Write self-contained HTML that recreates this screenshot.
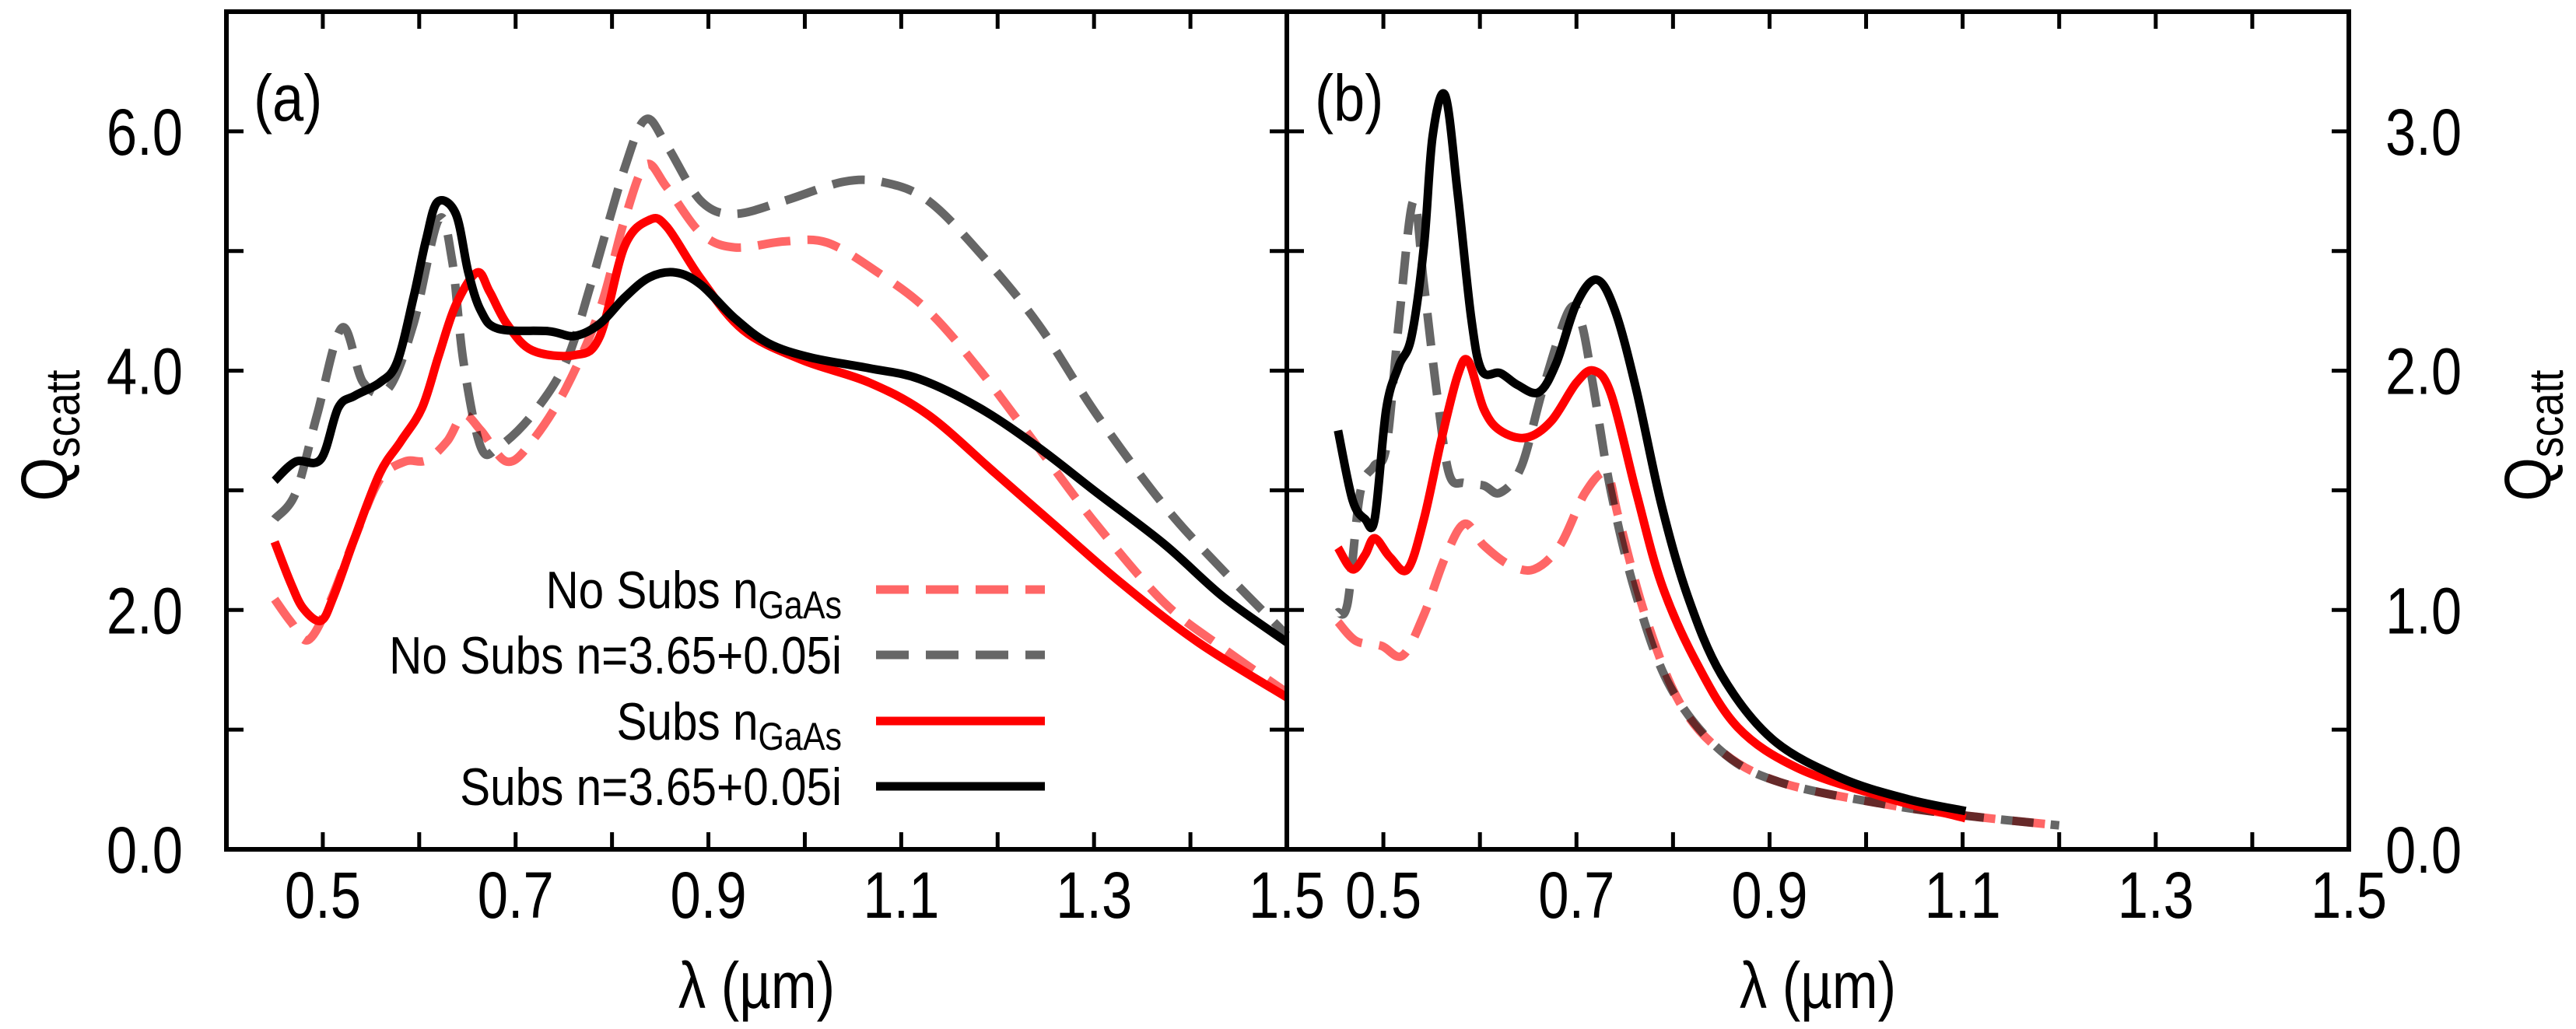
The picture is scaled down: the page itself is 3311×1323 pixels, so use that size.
<!DOCTYPE html>
<html><head><meta charset="utf-8">
<style>
html,body{margin:0;padding:0;background:#fff;}
svg{display:block;font-family:"Liberation Sans",Arial,sans-serif;}
.dash{mix-blend-mode:multiply;}
</style></head>
<body>
<svg id="chart" width="3311" height="1323" viewBox="0 0 3311 1323" xmlns="http://www.w3.org/2000/svg" style="position:absolute;left:0;top:0">
<g id="series"></g>
<g id="axes"></g>
<g id="labels"></g>
</svg>
<script>
// Panel (a) data
const aBlackX=[0.45,0.472,0.498,0.516,0.533,0.559,0.577,0.594,0.607,0.619,0.638,0.651,0.664,0.682,0.734,0.761,0.787,0.813,0.839,0.866,0.892,0.927,0.962,1.006,1.067,1.119,1.181,1.242,1.303,1.373,1.434,1.5];
const aBlackY=[3.08,3.24,3.26,3.69,3.79,3.90,4.07,4.61,5.09,5.41,5.31,4.82,4.50,4.35,4.33,4.29,4.39,4.61,4.78,4.82,4.72,4.44,4.23,4.11,4.02,3.93,3.69,3.36,2.98,2.55,2.11,1.73];
const aRedX=[0.45,0.467,0.48,0.498,0.511,0.533,0.559,0.581,0.603,0.62,0.638,0.66,0.673,0.691,0.717,0.761,0.787,0.813,0.839,0.857,0.892,0.936,0.997,1.067,1.128,1.198,1.259,1.329,1.408,1.5];
const aRedY=[2.57,2.22,2.01,1.91,2.11,2.60,3.14,3.41,3.69,4.12,4.55,4.82,4.66,4.39,4.17,4.13,4.28,5.04,5.26,5.20,4.77,4.34,4.09,3.90,3.63,3.14,2.71,2.22,1.73,1.27];
const aPinkX=[0.45,0.467,0.485,0.507,0.533,0.559,0.585,0.607,0.629,0.646,0.664,0.691,0.717,0.752,0.787,0.813,0.835,0.857,0.892,0.927,0.979,1.023,1.076,1.128,1.181,1.242,1.303,1.373,1.434,1.5];
const aPinkY=[2.09,1.90,1.75,2.06,2.60,3.09,3.24,3.25,3.41,3.63,3.50,3.24,3.41,3.85,4.50,5.26,5.72,5.53,5.15,5.03,5.08,5.07,4.82,4.50,4.01,3.36,2.71,2.06,1.68,1.31];
const aGrayX=[0.45,0.472,0.494,0.52,0.542,0.568,0.594,0.62,0.634,0.646,0.664,0.682,0.717,0.752,0.778,0.813,0.835,0.857,0.892,0.927,0.979,1.041,1.084,1.128,1.181,1.242,1.303,1.373,1.434,1.5];
const aGrayY=[2.76,2.98,3.63,4.36,3.90,3.85,4.39,5.26,4.93,4.07,3.36,3.36,3.63,4.07,4.72,5.69,6.10,5.88,5.42,5.31,5.42,5.58,5.57,5.42,4.99,4.39,3.63,2.87,2.33,1.79];
// Panel (b) data
const bBlackX=[0.453,0.468,0.481,0.491,0.503,0.516,0.529,0.542,0.551,0.564,0.577,0.591,0.602,0.621,0.639,0.661,0.679,0.700,0.721,0.740,0.762,0.788,0.815,0.850,0.903,0.973,1.043,1.103];
const bBlackY=[1.75,1.46,1.38,1.38,1.84,2.02,2.14,2.52,2.98,3.15,2.74,2.22,2.00,1.99,1.94,1.91,2.03,2.28,2.38,2.25,1.92,1.44,1.06,0.73,0.46,0.30,0.21,0.16];
const bRedX=[0.453,0.468,0.481,0.491,0.507,0.525,0.542,0.560,0.577,0.588,0.604,0.621,0.648,0.674,0.700,0.718,0.736,0.762,0.788,0.823,0.867,0.929,1.017,1.103];
const bRedY=[1.26,1.17,1.23,1.30,1.22,1.17,1.38,1.71,1.98,2.04,1.84,1.75,1.72,1.79,1.95,2.00,1.90,1.49,1.11,0.79,0.51,0.34,0.22,0.13];
const bPinkX=[0.453,0.472,0.498,0.520,0.542,0.564,0.584,0.604,0.630,0.656,0.683,0.709,0.731,0.744,0.771,0.806,0.850,0.911,1.017,1.105,1.2];
const bPinkY=[0.95,0.87,0.85,0.81,0.98,1.22,1.36,1.27,1.19,1.17,1.27,1.49,1.57,1.38,0.98,0.62,0.41,0.28,0.19,0.14,0.10];
const bGrayX=[0.453,0.463,0.476,0.490,0.503,0.516,0.531,0.542,0.555,0.568,0.584,0.604,0.621,0.643,0.665,0.692,0.705,0.718,0.736,0.762,0.797,0.850,0.911,1.017,1.105,1.2];
const bGrayY=[0.99,1.03,1.49,1.60,1.68,2.20,2.71,2.36,1.92,1.57,1.53,1.52,1.49,1.60,1.92,2.25,2.20,1.92,1.49,1.06,0.68,0.41,0.28,0.19,0.14,0.10];
const xTicks=[0.5,0.6,0.7,0.8,0.9,1.0,1.1,1.2,1.3,1.4];
const xTickLabels=["0.5","0.7","0.9","1.1","1.3","1.5"];
const aYLabels=["0.0","2.0","4.0","6.0"];
const bYLabels=["0.0","1.0","2.0","3.0"];

const NS="http://www.w3.org/2000/svg";
const TOP=15,BOT=1092,FS=84,SX=0.84;
const panels=[{x0:291,x1:1654,ymax:7},{x0:1654,x1:3019,ymax:3.5}];
function sx(p,v){return p.x0+(v-0.4)/1.1*(p.x1-p.x0);}
function sy(p,v){return BOT-v/p.ymax*(BOT-TOP);}
function mk(tag,attrs,parent){const e=document.createElementNS(NS,tag);for(const k in attrs)e.setAttribute(k,attrs[k]);parent.appendChild(e);return e;}
const gS=document.getElementById('series'),gA=document.getElementById('axes'),gL=document.getElementById('labels');

function drawLine(p,xs,ys,color,dashed,name){
  const P=xs.map((x,i)=>[sx(p,x),sy(p,ys[i])]);
  let d='M'+P[0][0].toFixed(1)+','+P[0][1].toFixed(1);
  for(let i=0;i<P.length-1;i++){
    const p0=P[Math.max(i-1,0)],p1=P[i],p2=P[i+1],p3=P[Math.min(i+2,P.length-1)];
    const t=1/6;
    const c1=[p1[0]+(p2[0]-p0[0])*t,p1[1]+(p2[1]-p0[1])*t];
    const c2=[p2[0]-(p3[0]-p1[0])*t,p2[1]-(p3[1]-p1[1])*t];
    d+='C'+c1[0].toFixed(1)+','+c1[1].toFixed(1)+' '+c2[0].toFixed(1)+','+c2[1].toFixed(1)+' '+p2[0].toFixed(1)+','+p2[1].toFixed(1);
  }
  const e=mk('path',{d:d,fill:'none',stroke:color,'stroke-width':11,'stroke-linejoin':'round'},gS);
  if(dashed){e.setAttribute('stroke-dasharray','42 22');e.setAttribute('class','dash');}
  
  
}
function label(x,y,s,anchor){
  const t=mk('text',{transform:`translate(${x},${y}) scale(${SX},1)`,x:0,y:0,'font-size':FS,'text-anchor':anchor},gL);
  t.textContent=s;return t;
}
const A=panels[0],B=panels[1];
drawLine(A,aGrayX,aGrayY,'#666666',true,'series-a-nosubs-n365');
drawLine(A,aPinkX,aPinkY,'#ff6666',true,'series-a-nosubs-ngaas');
drawLine(A,aRedX,aRedY,'#ff0000',false,'series-a-subs-ngaas');
drawLine(A,aBlackX,aBlackY,'#000000',false,'series-a-subs-n365');
drawLine(B,bGrayX,bGrayY,'#666666',true,'series-b-nosubs-n365');
drawLine(B,bPinkX,bPinkY,'#ff6666',true,'series-b-nosubs-ngaas');
drawLine(B,bRedX,bRedY,'#ff0000',false,'series-b-subs-ngaas');
drawLine(B,bBlackX,bBlackY,'#000000',false,'series-b-subs-n365');

panels.forEach((p,pi)=>{
  const r=mk('rect',{x:p.x0,y:TOP,width:p.x1-p.x0,height:BOT-TOP,fill:'none',stroke:'#000','stroke-width':6},gA);
  
  
  xTicks.forEach(v=>{const X=sx(p,v);
    const t=mk('path',{d:`M${X},${BOT}v-22M${X},${TOP}v22`,stroke:'#000','stroke-width':5},gA);
    
    });
  for(let k=1;k<7;k++){const Y=BOT-k/7*(BOT-TOP);
    const t=mk('path',{d:`M${p.x0},${Y}h22M${p.x1},${Y}h-22`,stroke:'#000','stroke-width':5},gA);
    
    }
  xTickLabels.forEach(s=>{const v=parseFloat(s);
    const t=label(sx(p,v),1180,s,'middle');
    
    });
  const xt=label((p.x0+p.x1)/2,1296,'λ (µm)','middle');
  
  
});
aYLabels.forEach(s=>{const t=label(235,sy(A,parseFloat(s))+30,s,'end');
  
  });
bYLabels.forEach(s=>{const t=label(3066,sy(B,parseFloat(s))+30,s,'start');
  
  });
</script>
<svg style="position:absolute;left:0;top:0" width="3311" height="1323" xmlns="http://www.w3.org/2000/svg" font-family="Liberation Sans, Arial, sans-serif">
<text transform="translate(86,560) rotate(-90) scale(0.86,1)" font-size="84" text-anchor="middle">Q<tspan font-size="62" dy="16">scatt</tspan></text>
<text transform="translate(3278,560) rotate(-90) scale(0.86,1)" font-size="84" text-anchor="middle">Q<tspan font-size="62" dy="16">scatt</tspan></text>
<text transform="translate(326,155) scale(0.86,1)" font-size="84">(a)</text>
<text transform="translate(1690,155) scale(0.86,1)" font-size="84">(b)</text>
<g font-size="68" text-anchor="end">
<text transform="translate(1082,782) scale(0.86,1)">No Subs n<tspan font-size="50" dy="13">GaAs</tspan></text>
<path d="M1126,758H1343" stroke="#ff6666" stroke-width="11" stroke-dasharray="42 22" fill="none"/>
<text transform="translate(1082,866) scale(0.86,1)">No Subs n=3.65+0.05i</text>
<path d="M1126,842H1343" stroke="#666666" stroke-width="11" stroke-dasharray="42 22" fill="none"/>
<text transform="translate(1082,951) scale(0.86,1)">Subs n<tspan font-size="50" dy="13">GaAs</tspan></text>
<path d="M1126,927H1343" stroke="#ff0000" stroke-width="11" fill="none"/>
<text transform="translate(1082,1035) scale(0.86,1)">Subs n=3.65+0.05i</text>
<path d="M1126,1011H1343" stroke="#000000" stroke-width="11" fill="none"/>
</g>
</svg>
</body></html>
